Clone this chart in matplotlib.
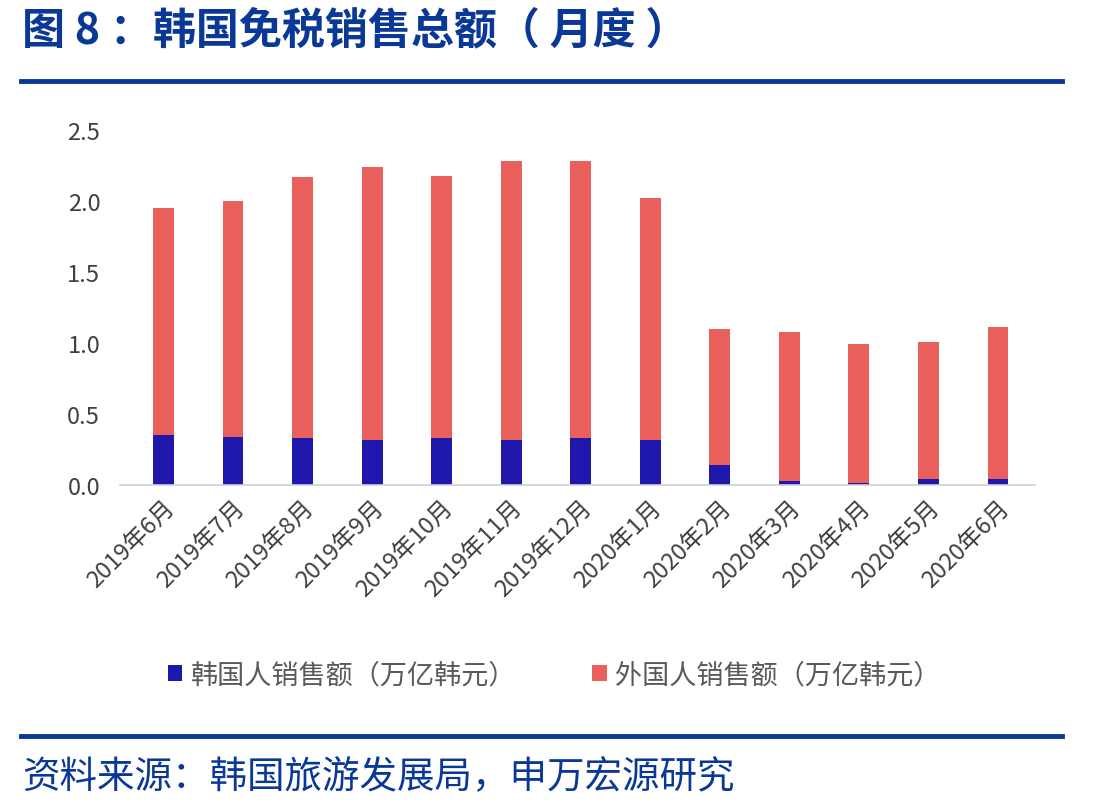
import matplotlib
matplotlib.use("Agg")
import matplotlib.pyplot as plt
import numpy as np

plt.rcParams['font.family'] = ['Noto Sans CJK SC', 'DejaVu Sans']

# ── data (万亿韩元) ─────────────────────────────────────────────
months = ["2019年6月", "2019年7月", "2019年8月", "2019年9月", "2019年10月",
          "2019年11月", "2019年12月", "2020年1月", "2020年2月", "2020年3月",
          "2020年4月", "2020年5月", "2020年6月"]
total = [1.95, 2.00, 2.17, 2.24, 2.18, 2.28, 2.28, 2.02, 1.10, 1.08, 0.99, 1.01, 1.11]
korean = [0.355, 0.34, 0.33, 0.32, 0.33, 0.32, 0.33, 0.32, 0.14, 0.03, 0.015, 0.04, 0.04]
foreign = [t - k for t, k in zip(total, korean)]

blue = "#1F17AC"
red = "#E85F5C"
navy = "#0A3896"

fig = plt.figure(figsize=(11.08, 8.12), dpi=100)
ax = fig.add_axes([0.108, 0.4015, 0.826, 0.437])

x = np.arange(len(months))
ax.bar(x, korean, width=0.3, color=blue, label="韩国人销售额（万亿韩元）")
ax.bar(x, foreign, width=0.3, bottom=korean, color=red, label="外国人销售额（万亿韩元）")

ax.set_xlim(-0.63, len(months) - 0.47)
ax.set_ylim(0, 2.5)
ax.set_yticks([0, 0.5, 1.0, 1.5, 2.0, 2.5])
ax.set_yticklabels(["0.0", "0.5", "1.0", "1.5", "2.0", "2.5"])
ax.set_xticks(x)
ax.set_xticklabels(months, rotation=45, ha="right", rotation_mode="anchor")
ax.tick_params(axis="both", length=0, labelsize=17, colors="#404040")
ax.tick_params(axis="y", pad=14)
ax.tick_params(axis="x", pad=8)
for s in ["top", "right", "left"]:
    ax.spines[s].set_visible(False)
ax.spines["bottom"].set_color("#D0D0D8")
ax.spines["bottom"].set_linewidth(1.2)

fig.legend(loc="center", bbox_to_anchor=(0.5, 1 - 676 / 812), ncol=2,
           frameon=False, fontsize=19.5, handlelength=0.55, handleheight=0.55,
           columnspacing=2.8, handletextpad=0.3, labelcolor="#595959")

# header / footer
fig.text(0.02, 1 - 30 / 812, "图 8 ：韩国免税销售总额（ 月度 ）", fontsize=31,
         fontweight="heavy", color=navy, va="center", ha="left")
fig.add_artist(plt.Line2D([21 / 1108, 1062 / 1108], [1 - 82 / 812] * 2,
                          color=navy, lw=3.5))
fig.add_artist(plt.Line2D([21 / 1108, 1062 / 1108], [1 - 737 / 812] * 2,
                          color=navy, lw=3.5))
fig.text(0.02, 1 - 778 / 812, "资料来源：韩国旅游发展局，申万宏源研究", fontsize=27,
         color=navy, va="center", ha="left")

fig.savefig("out.png", dpi=100)
